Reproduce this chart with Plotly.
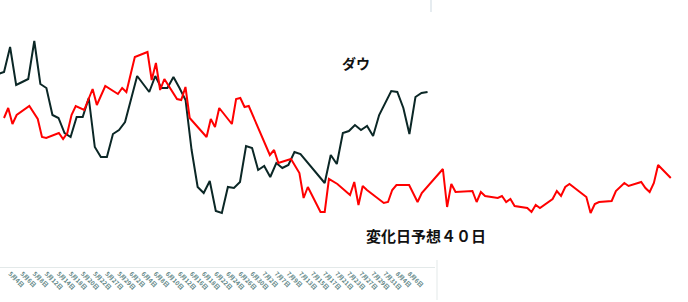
import plotly.graph_objects as go

# ---- data ----
# Dow: one value per trading day (index 0 = 4月30日)
dow_values = [226, 228, 253, 215, 218, 221, 259, 216, 212, 185, 182, 167, 163, 183, 183, 202,
              153, 143, 143, 166, 170, 178, 201, 224, 216, 208, 224, 212, 212, 223, 212, 200,
              150, 113, 107, 119, 89, 87, 113, 112, 118, 154, 152, 130, 134, 123, 137, 132,
              135, 148, 146, 139, 132, 124, 117, 145, 136, 167, 169, 175, 170, 174, 164, 185,
              197, 209, 208, 192, 166, 203, 207, 208]

# change-day forecast: calendar-day offsets (day 0 = 5月1日) and values
forecast_days = [0, 1, 2, 3, 6, 8, 9, 10, 13, 14, 15, 16, 17, 19, 21, 22, 24, 27, 28, 29,
                 31, 34, 35, 36, 37, 38, 41, 42, 43, 44, 48, 49, 50, 51, 54, 55, 56, 57, 58, 62,
                 63, 64, 65, 68, 70, 71, 72, 75, 76, 77, 79, 82, 83, 84, 85, 86, 90, 91, 92, 93,
                 96, 98, 99, 104, 105, 106, 107, 111, 112, 113, 114, 117, 118, 119, 120, 121, 124, 125, 126, 127,
                 130, 131, 132, 133, 134, 138, 139, 140, 141, 144, 145, 147, 148, 151, 152, 153, 154, 155, 158]
forecast_values = [182, 192, 176, 185, 194, 181, 163, 162, 167, 161, 167, 185, 194, 190, 211, 195, 214, 206, 212, 208,
                   243, 248, 220, 237, 210, 221, 201, 200, 213, 182, 163, 181, 173, 192, 176, 201, 202, 193, 194, 155,
                   145, 150, 137, 141, 127, 102, 113, 88, 88, 121, 116, 105, 118, 95, 114, 110, 97, 98, 110, 115,
                   115, 98, 107, 131, 93, 116, 108, 109, 98, 108, 104, 102, 104, 98, 101, 94, 92, 88, 95, 92,
                   101, 109, 104, 113, 116, 103, 87, 96, 98, 99, 109, 117, 114, 118, 112, 108, 117, 135, 122]

# tick labels, every second trading day
tick_labels = ["4月30日", "5月4日", "5月6日", "5月8日", "5月12日", "5月14日", "5月18日", "5月20日",
               "5月22日", "5月27日", "5月29日", "6月2日", "6月4日", "6月8日", "6月10日", "6月12日",
               "6月16日", "6月18日", "6月22日", "6月24日", "6月26日", "6月30日", "7月2日", "7月7日",
               "7月9日", "7月13日", "7月15日", "7月17日", "7月21日", "7月23日", "7月27日", "7月29日",
               "7月31日", "8月4日", "8月6日"]

label_dow = "ダウ"
label_forecast = "変化日予想４０日"

# ---- figure ----
W, H = 688, 302
MB = 2
ph = H - MB
axis_y = 267
ydom0 = (ph - axis_y) / ph
xdom1 = 435 / W

fig = go.Figure()
fig.add_trace(go.Scatter(x=list(range(len(dow_values))), y=dow_values, mode="lines",
                         line=dict(color="#0b2726", width=2), xaxis="x", yaxis="y",
                         hoverinfo="skip", showlegend=False))
fig.add_trace(go.Scatter(x=forecast_days, y=forecast_values, mode="lines",
                         line=dict(color="#ff0000", width=2), xaxis="x2", yaxis="y",
                         hoverinfo="skip", showlegend=False))

grid_c = "#e3e9e9"
fig.update_layout(
    width=W, height=H,
    margin=dict(l=0, r=0, t=0, b=MB, pad=0),
    paper_bgcolor="white", plot_bgcolor="rgba(0,0,0,0)",
    showlegend=False,
    xaxis=dict(domain=[0, xdom1], range=[2 / 6.05, 437 / 6.05], anchor="y",
               tickvals=[2 * k for k in range(len(tick_labels))],
               ticktext=["<b>" + t + "</b>" for t in tick_labels],
               tickangle=45, tickfont=dict(size=6, color="#5e8585", family="Noto Sans CJK JP"),
               showgrid=False, zeroline=False, showline=True, linecolor=grid_c, linewidth=1,
               ticks="", ticklen=0),
    xaxis2=dict(domain=[0, 1], range=[-4 / 4.22, (W - 4) / 4.22], anchor="y",
                visible=False),
    xaxis3=dict(domain=[0, xdom1], range=[0, 435], anchor="y", overlaying="x",
                tick0=17, dtick=32.1, ticks="inside", ticklen=7, tickcolor=grid_c,
                showticklabels=False, showgrid=False, zeroline=False, showline=False),
    xaxis4=dict(domain=[0, xdom1], range=[0, 435], anchor="free", position=(ph - 297) / ph,
                overlaying="x",
                tick0=17, dtick=32.1, ticks="inside", ticklen=5, tickcolor=grid_c,
                showticklabels=False, showgrid=False, zeroline=False, showline=True,
                linecolor=grid_c),
    yaxis=dict(domain=[ydom0, 1], range=[300 - axis_y, 300], visible=False, fixedrange=True),
    shapes=[
        dict(type="line", xref="paper", yref="paper", x0=437 / W, x1=437 / W,
             y0=(ph - 300) / ph, y1=(ph - 260) / ph, line=dict(color=grid_c, width=1)),
        dict(type="line", xref="paper", yref="paper", x0=431 / W, x1=431 / W,
             y0=(ph - 12) / ph, y1=1, line=dict(color="#e6ecf0", width=2)),
    ],
    annotations=[
        dict(x=(356 - 4) / 4.22, y=300 - 63, xref="x2", yref="y", text="<b>" + label_dow + "</b>",
             showarrow=False, font=dict(size=14, color="#111", family="Noto Sans CJK JP"),
             xanchor="center", yanchor="middle"),
        dict(x=(426 - 4) / 4.22, y=300 - 235, xref="x2", yref="y", text="<b>" + label_forecast + "</b>",
             showarrow=False, font=dict(size=15, color="#111", family="Noto Sans CJK JP"),
             xanchor="center", yanchor="middle"),
    ],
)

fig.write_html("out.html", include_plotlyjs=True, config={"displayModeBar": False})
